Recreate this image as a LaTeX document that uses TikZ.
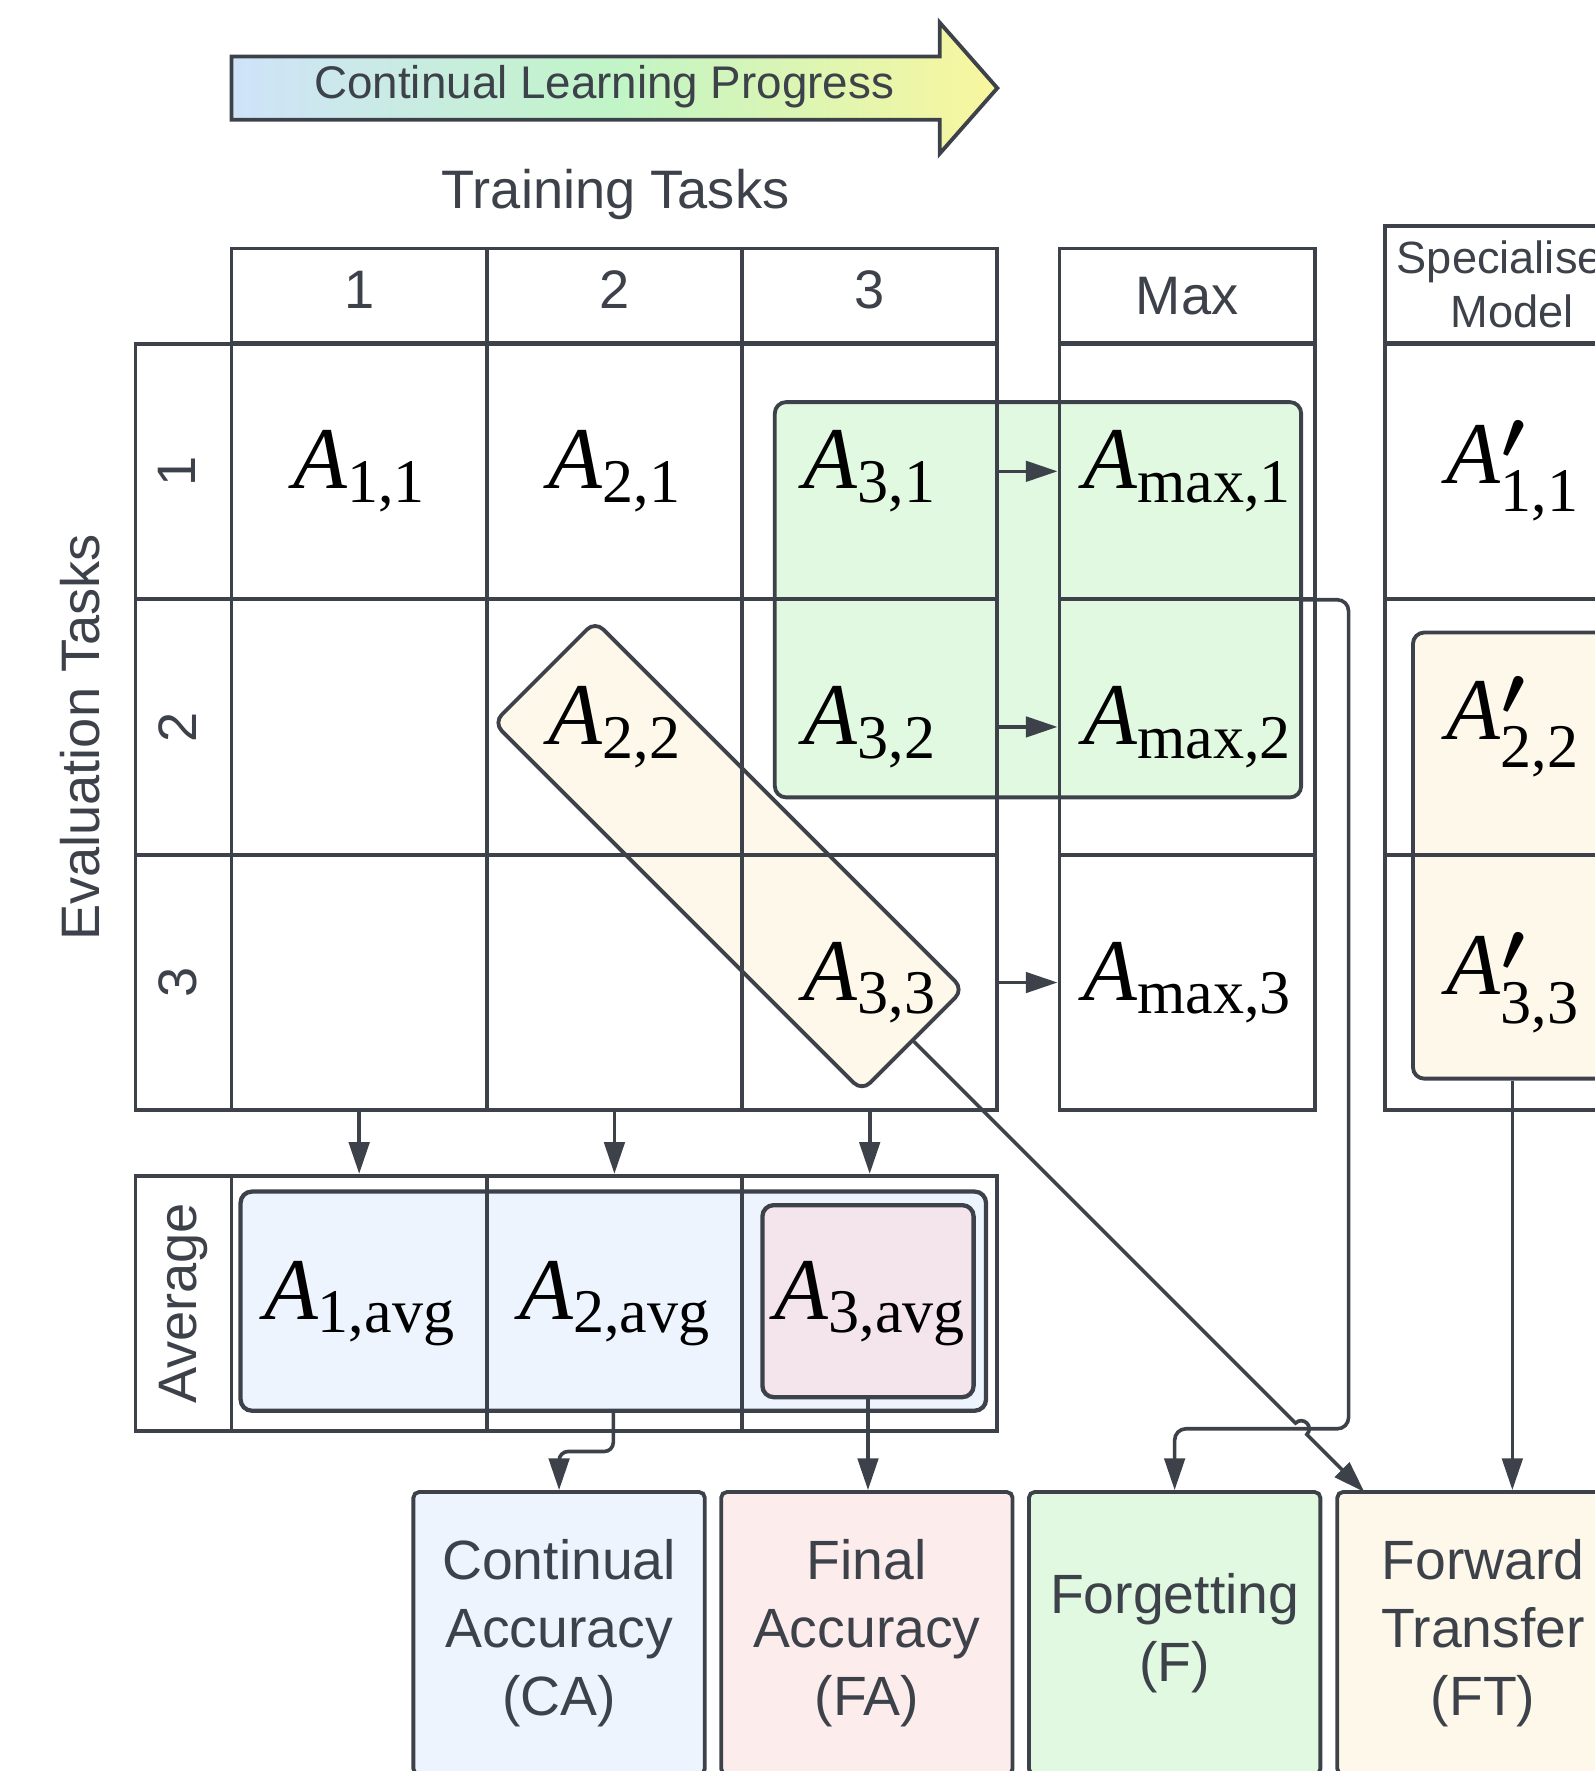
\documentclass[tikz,border=0pt]{standalone}
\usepackage{fix-cm}
\usepackage{fontspec}
\setmainfont{Liberation Serif}
\setsansfont{Liberation Sans}
\usetikzlibrary{positioning,arrows.meta,calc}

\definecolor{linegray}{RGB}{61,66,74}
\definecolor{greenfill}{RGB}{224,249,224}
\definecolor{creamfill}{RGB}{253,248,234}
\definecolor{bluefill}{RGB}{237,244,254}
\definecolor{pinkfill}{RGB}{253,236,236}
\definecolor{lastfill}{RGB}{243,229,235}
\definecolor{progblue}{RGB}{207,227,249}
\definecolor{proggreen}{RGB}{193,245,199}
\definecolor{progyellow}{RGB}{249,246,158}

% accuracy labels
\newcommand{\accA}[1]{{\fontsize{78}{80}\selectfont\itshape A}{\fontsize{55}{60}\selectfont\raisebox{-12pt}{#1}}}
\newcommand{\accP}[1]{{\fontsize{78}{80}\selectfont\itshape A}\rlap{\kern1pt\raisebox{22pt}{\fontsize{60}{64}\selectfont\boldmath$\prime$}}{\fontsize{55}{60}\selectfont\raisebox{-25pt}{#1}}}

\tikzset{
    cell/.style={draw=linegray, line width=3.4pt, minimum width=226pt, minimum height=226pt, inner sep=0pt, text=black},
    sflab/.style={text=linegray, font=\sffamily\fontsize{48}{60}\selectfont},
    digit/.style={sflab, text depth=11pt},
    hilite/.style={draw=linegray, line width=3.4pt, rounded corners=10pt, inner sep=0pt},
    metric/.style={draw=linegray, line width=3.4pt, rounded corners=5pt, minimum width=258pt, minimum height=250pt, align=center, text=linegray, font=\sffamily\fontsize{49}{60}\selectfont},
    conn/.style={draw=linegray, line width=3.2pt, -{Triangle[length=28pt,width=18pt]}},
}

\begin{document}
\begin{tikzpicture}[x=1pt, y=-1pt]
    \useasboundingbox (0,0) rectangle (1412,1568);
    \clip (0,0) rectangle (1412,1568);

    % progress arrow
    \path[draw=linegray, line width=3.4pt, left color=progblue, right color=progyellow, middle color=proggreen]
        (205,50) -- (832,50) -- (832,20) -- (883,78) -- (832,136) -- (832,106) -- (205,106) -- cycle;
    \node[text=linegray, font=\sffamily\fontsize{40.5}{48}\selectfont] (prog) at (535,77) {Continual Learning Progress};
    \node[sflab] (train) at (545,172) {Training Tasks};
    \node[sflab, rotate=90] (eval) at (71,653) {Evaluation Tasks};

    % highlighted groups
    \node[hilite, fill=greenfill, minimum width=466pt, minimum height=350pt] (green) at (919,531) {};
    \node[hilite, fill=creamfill, rotate=-45, minimum width=461pt, minimum height=127pt] (diag) at (645,758) {};
    \node[hilite, fill=creamfill, minimum width=176pt, minimum height=395pt] (spec) at (1339,757.5) {};
    \node[hilite, fill=bluefill, line width=3.8pt, minimum width=660pt, minimum height=194pt] (avg) at (543,1152) {};
    \node[hilite, fill=lastfill, line width=3.8pt, minimum width=187pt, minimum height=170pt] (last) at (768.5,1152) {};

    % grids
    \foreach \c in {1,2,3} {
        \node[cell, digit, minimum height=84pt] (h\c) at ({92+226*\c},262) {\c};
        \foreach \r in {1,2,3}
            \node[cell] (c\c\r) at ({92+226*\c},{191+226.3*\r}) {};
        \node[cell, digit, rotate=90, minimum height=85pt] (r\c) at (162.5,{191+226.3*\c}) {\c};
        \node[cell] (m\c) at (1051,{191+226.3*\c}) {};
        \node[cell] (s\c) at (1339,{191+226.3*\c}) {};
        \node[cell] (a\c) at ({92+226*\c},1154) {};
    }
    \node[cell, sflab, minimum height=84pt] (mh) at (1051,262) {Max};
    \node[cell, minimum height=104pt, align=center, text=linegray, font=\sffamily\fontsize{40}{48}\selectfont] (sh) at (1339,252) {Specialised\\Model};
    \node[cell, sflab, rotate=90, minimum height=85pt] (ra) at (162.5,1154) {Average};

    % accuracies
    \foreach \c/\r/\lab in {1/1/{1,1}, 2/1/{2,1}, 3/1/{3,1}, 2/2/{2,2}, 3/2/{3,2}, 3/3/{3,3}}
        \node (l\c\r) at (c\c\r) {\accA{\lab}};
    \foreach \r in {1,2,3} {
        \node (lm\r) at (m\r) {\accA{max,\r}};
        \node (ls\r) at (s\r) {\accP{\r,\r}};
        \node (la\r) at (a\r) {\accA{\r,avg}};
    }

    % metrics
    \node[metric, fill=bluefill] (ca) at (495,1446) {Continual\\Accuracy\\(CA)};
    \node[metric, fill=pinkfill] (fa) at (767.5,1446) {Final\\Accuracy\\(FA)};
    \node[metric, fill=greenfill] (forg) at (1040,1446) {Forgetting\\(F)};
    \node[metric, fill=creamfill] (ft) at (1313,1446) {Forward\\Transfer\\(FT)};

    % connectors
    \foreach \c in {1,2,3} {
        \draw[conn] (c\c3.south) -- (a\c.north);
        \draw[conn] (c3\c.east) -- (m\c.west);
    }
    \draw[conn, rounded corners=8pt] (avg.south) -- ($(avg.south)!0.5!(avg.south |- ca.north)$) -| (ca.north);
    \draw[conn] (last.south) -- (last.south |- fa.north);
    \coordinate (fturn) at (1194,1265);
    \draw[conn, rounded corners=10pt] (green.east) -| (fturn) -| (forg.north);
    \coordinate (hop) at (1152,1265);
    \coordinate (ftin) at (1208,1321);
    \draw[conn] (diag.east) -- ($(hop)+(-5,-5)$) .. controls ($(hop)+(1.7,-11.7)$) and ($(hop)+(11.7,-1.7)$) .. ($(hop)+(5,5)$) -- (ftin);
    \draw[conn] (spec.south) -- (spec.south |- ft.north);
\end{tikzpicture}
\end{document}
